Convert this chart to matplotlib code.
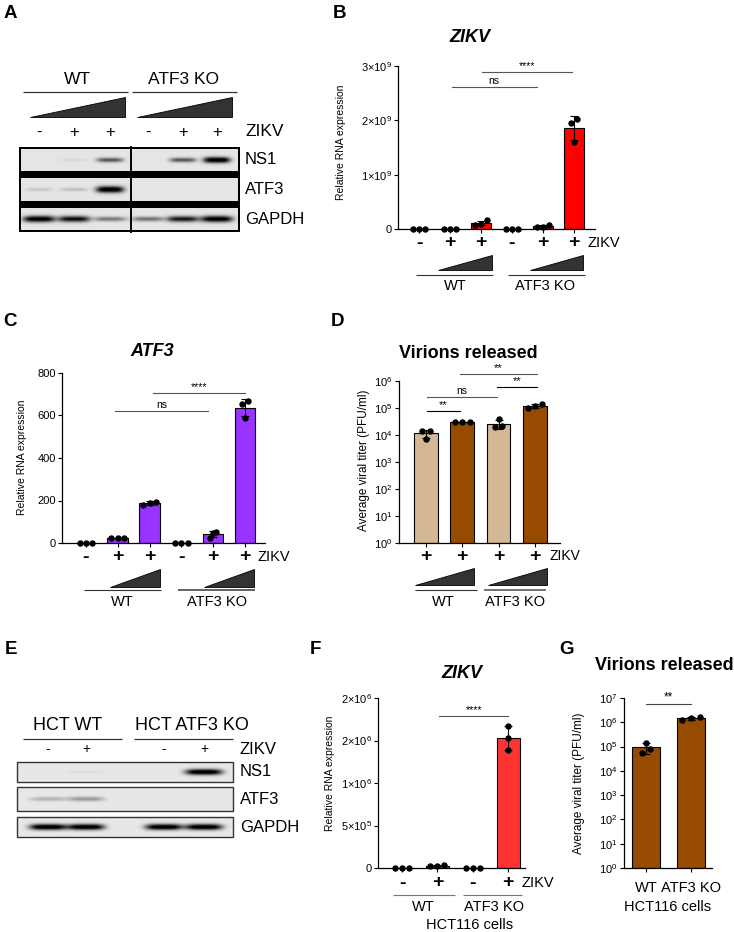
import numpy as np
import matplotlib
matplotlib.use('Agg')
import matplotlib.pyplot as plt
from matplotlib.patches import Polygon, Rectangle

plt.rcParams['font.family'] = ['Liberation Sans', 'DejaVu Sans']
plt.rcParams['mathtext.fontset'] = 'custom'
plt.rcParams['mathtext.rm'] = 'Liberation Sans'
plt.rcParams['mathtext.it'] = 'Liberation Sans:italic'
plt.rcParams['mathtext.bf'] = 'Liberation Sans:bold'

# ---------------- data ----------------
# Panel A western blot (band intensity 0..1), lanes: WT -,+,+ | ATF3 KO -,+,+
blotA_signs = ['-', '+', '+', '-', '+', '+']
blotA_NS1 = [0.0, 0.06, 0.55, 0.0, 0.55, 1.0]
blotA_ATF3 = [0.12, 0.15, 1.0, 0.0, 0.0, 0.0]
blotA_GAPDH = [0.95, 0.85, 0.42, 0.45, 0.8, 0.95]

# Panel B ZIKV RNA (3 replicates per condition)
B_signs = ['-', '+', '+', '-', '+', '+']
B_reps = [[0, 0, 0], [0, 0, 0], [0.16e9, 0.10e9, 0.08e9],
          [0, 0, 0], [0.03e9, 0.07e9, 0.04e9], [2.02e9, 1.95e9, 1.60e9]]

# Panel C ATF3 RNA
C_signs = ['-', '+', '+', '-', '+', '+']
C_reps = [[1, 1, 1], [22, 25, 22], [195, 190, 180],
          [1, 1, 1], [52, 48, 25], [666, 655, 590]]

# Panel D virions released (PFU/ml)
D_signs = ['+', '+', '+', '+']
D_reps = [[1.4e4, 1.4e4, 7.0e3], [3.0e4, 3.1e4, 3.0e4],
          [2.1e4, 2.0e4, 3.8e4], [1.0e5, 1.2e5, 1.45e5]]

# Panel E western blot (HCT116): WT -,+ | ATF3 KO -,+
blotE_signs = ['-', '+', '-', '+']
blotE_NS1 = [0.0, 0.05, 0.0, 1.0]
blotE_ATF3 = [0.2, 0.3, 0.0, 0.0]
blotE_GAPDH = [1.0, 1.0, 1.0, 1.0]

# Panel F ZIKV RNA HCT116
F_signs = ['-', '+', '-', '+']
F_reps = [[0, 0, 0], [2.5e4, 3.0e4, 2.8e4], [0, 0, 0], [1.67e6, 1.53e6, 1.39e6]]
F_yticks = [0, 5e5, 1e6, 1.5e6, 2e6]
F_yticklabels = ['0', r'$5{\times}10^{5}$', r'$1{\times}10^{6}$', r'$2{\times}10^{6}$', r'$2{\times}10^{6}$']

# Panel G virions HCT116
G_cats = ['WT', 'ATF3 KO']
G_reps = [[1.4e5, 8.0e4, 5.5e4], [1.7e6, 1.3e6, 1.5e6]]

# ---------------- figure ----------------
W, H = 734, 932
fig = plt.figure(figsize=(W / 100, H / 100), dpi=100)


def rect(x0, y0, x1, y1):
    return [x0 / W, 1 - y1 / H, (x1 - x0) / W, (y1 - y0) / H]


ov = fig.add_axes([0, 0, 1, 1], zorder=0)
ov.axis('off')


def T(x, y, s, fs, ha='center', va='center', **kw):
    ov.text(x, y, s, fontsize=fs, ha=ha, va=va, **kw)


def hline(x0, x1, y, color='#333333', lw=0.9):
    ov.plot([x0, x1], [y, y], color=color, lw=lw, solid_capstyle='butt')


def tri(x0, x1, ytop, ybot):
    ov.add_patch(Polygon([(x0, ybot), (x1, ybot), (x1, ytop)], closed=True,
                         fc='#333333', ec='black', lw=0.6))


def blot_row(lanes, intens, x0, x1, y0, y1, bw, bh, bg=0.9):
    xs = np.linspace(x0, x1, int((x1 - x0) * 3))
    ys = np.linspace(y0, y1, int((y1 - y0) * 3))
    X, Y = np.meshgrid(xs, ys)
    yc = (y0 + y1) / 2
    dark = np.zeros_like(X)
    for xc, I in zip(lanes, intens):
        if I <= 0:
            continue
        h = bh * (0.6 + 0.6 * I)
        dark += I * np.exp(-np.abs((X - xc) / (bw / 2)) ** 4) * np.exp(-((Y - yc) / (h / 2)) ** 2)
    img = bg * (1 - np.clip(dark * 1.15, 0, 1))
    ov.imshow(img, cmap='gray', vmin=0, vmax=1, extent=(x0, x1, y1, y0),
              aspect='auto', interpolation='bilinear', zorder=1)


# ---------- Panel A ----------
lanesA = [39, 74, 110, 148, 183, 217]
T(77, 79, 'WT', 12.5)
T(184, 79, 'ATF3 KO', 12.5)
hline(23, 128, 92)
hline(132, 237, 92)
tri(30, 125, 97, 117)
tri(137, 232, 97, 117)
for x, s in zip(lanesA, blotA_signs):
    T(x, 132, s, 12)
T(245, 132, 'ZIKV', 12.5, ha='left')
ov.add_patch(Rectangle((19, 147), 221, 85, fc='black', ec='none', zorder=0.5))
for (y0, y1), vals, bw, bh in [((149, 171), blotA_NS1, 27, 5),
                               ((178, 201), blotA_ATF3, 28, 5.5),
                               ((208, 230), blotA_GAPDH, 32, 5.5)]:
    blot_row(lanesA, vals, 21, 238, y0, y1, bw, bh)
ov.plot([130.5, 130.5], [147, 232], color='black', lw=1.4, zorder=2)
T(245, 160, 'NS1', 12, ha='left')
T(245, 190, 'ATF3', 12, ha='left')
T(245, 219, 'GAPDH', 12, ha='left')

# ---------- Panel E ----------
lanesE = [48, 86, 164, 204]
T(68, 726, 'HCT WT', 13)
T(192, 726, 'HCT ATF3 KO', 13)
hline(23, 122, 739)
hline(134, 233, 739)
for x, s in zip(lanesE, blotE_signs):
    T(x, 749, s, 10)
T(240, 749, 'ZIKV', 12, ha='left')
for (y0, y1), vals, bw, bh in [((762, 782), blotE_NS1, 37, 5),
                               ((787, 811), blotE_ATF3, 36, 6),
                               ((817, 837), blotE_GAPDH, 37, 5)]:
    blot_row(lanesE, vals, 17, 233, y0, y1, bw, bh, bg=0.91)
    ov.add_patch(Rectangle((17, y0), 216, y1 - y0, fc='none', ec='#333333', lw=1.0, zorder=2))
T(240, 772, 'NS1', 12, ha='left')
T(240, 800, 'ATF3', 12, ha='left')
T(240, 827, 'GAPDH', 12, ha='left')

ov.set_xlim(0, W)
ov.set_ylim(H, 0)


# ---------- bar panels ----------
def bar_panel(box, reps, colors, xlim, ylim, log=False, width=0.65):
    ax = fig.add_axes(rect(*box), zorder=2)
    ax.set_facecolor('none')
    n = len(reps)
    xs = np.arange(n)
    means = np.array([np.mean(r) for r in reps])
    sds = np.array([np.std(r, ddof=1) for r in reps])
    if log:
        ax.set_yscale('log')
    ax.set_xlim(*xlim)
    ax.set_ylim(*ylim)
    ax.bar(xs, means, width, bottom=(ylim[0] if log else 0), color=colors,
           edgecolor='black', linewidth=0.8, zorder=2)
    for i in range(n):
        if sds[i] > 0:
            ax.errorbar([xs[i]], [means[i]], yerr=[[sds[i]], [sds[i]]], fmt='none',
                        ecolor='black', elinewidth=0.8, capsize=3, capthick=0.8, zorder=3)
        vals = np.array(reps[i], dtype=float)
        pix = ax.transData.transform(np.column_stack([np.zeros(len(vals)), vals]))[:, 1]
        order = np.argsort(pix)
        off = np.zeros(len(vals))
        for a in range(len(order)):
            for b in range(a + 1, len(order)):
                if abs(pix[order[a]] - pix[order[b]]) < 5:
                    off[order[a]] -= 0.1
                    off[order[b]] += 0.1
        ax.plot(xs[i] + off, vals, 'o', ms=3.6, color='black', zorder=4, clip_on=False)
    for s in ['top', 'right']:
        ax.spines[s].set_visible(False)
    for s in ['left', 'bottom']:
        ax.spines[s].set_linewidth(0.9)
    ax.set_xticks(xs)
    ax.set_xticklabels([])
    ax.tick_params(direction='out', length=3, width=0.8, labelsize=8, pad=1.5)
    ax.minorticks_off()
    return ax


def ylab(ax, box, text, xpx, ypx, fs=7.5):
    ax.set_ylabel(text, fontsize=fs)
    ax.yaxis.set_label_coords((xpx - box[0]) / (box[2] - box[0]), (box[3] - ypx) / (box[3] - box[1]))


def sig(ax, x0, x1, y, text, color='#444444', fs=7.5, dy=0.5):
    ax.plot([x0, x1], [y, y], color=color, lw=0.8, clip_on=False, zorder=3)
    ax.annotate(text, ((x0 + x1) / 2, y), xytext=(0, dy), textcoords='offset points',
                ha='center', va='bottom', fontsize=fs, annotation_clip=False)


def cat_px(ax, i):
    return ax.transData.transform((i, 1))[0]


def log_labels(ax, top):
    ax.set_yticks([10.0 ** k for k in range(top + 1)])
    ax.set_yticklabels([r'$10^{%d}$' % k for k in range(top + 1)])


# ---------- Panel B ----------
boxB = (398, 66, 595, 229)
axB = bar_panel(boxB, B_reps, '#FF0000', (-0.68, 5.68), (0, 3e9))
axB.set_yticks([0, 1e9, 2e9, 3e9])
axB.set_yticklabels(['0', r'$1{\times}10^{9}$', r'$2{\times}10^{9}$', r'$3{\times}10^{9}$'])
ylab(axB, boxB, 'Relative RNA expression', 346, 142)
sig(axB, 1.05, 3.8, 2.62e9, 'ns', color='#555555')
sig(axB, 2.03, 4.94, 2.89e9, '****', color='#555555', fs=7.5)
for i, s in enumerate(B_signs):
    T(cat_px(axB, i), 243, s, 14, fontweight='bold')
T(587, 243, 'ZIKV', 10.5, ha='left')
tri(438, 492, 255, 270)
tri(530, 583, 255, 270)
hline(416, 493, 275, lw=0.8)
hline(508, 585, 275, lw=0.8)
T(455, 286, 'WT', 10.5)
T(545, 286, 'ATF3 KO', 10.5)

# ---------- Panel C ----------
boxC = (62, 373, 265, 543)
axC = bar_panel(boxC, C_reps, '#9933FF', (-0.75, 5.63), (0, 800))
axC.set_yticks([0, 200, 400, 600, 800])
ylab(axC, boxC, 'Relative RNA expression', 27, 457)
sig(axC, 0.9, 3.85, 621, 'ns', color='#555555')
sig(axC, 2.1, 5.0, 706, '****', color='#555555', fs=7.5)
for i, s in enumerate(C_signs):
    T(cat_px(axC, i), 557, s, 14, fontweight='bold')
T(258, 557, 'ZIKV', 10.5, ha='left')
tri(110, 160, 569, 587)
tri(204, 254, 569, 587)
hline(84, 161, 590, lw=0.8)
hline(178, 255, 590, lw=1.3, color='#555555')
T(122, 602, 'WT', 10.5)
T(217, 602, 'ATF3 KO', 10.5)

# ---------- Panel D ----------
boxD = (399, 381, 560, 543)
axD = bar_panel(boxD, D_reps, ['#D4B896', '#964B00', '#D4B896', '#964B00'],
                (-0.74, 3.69), (1, 1e6), log=True)
log_labels(axD, 6)
ylab(axD, boxD, 'Average viral titer (PFU/ml)', 370, 460, fs=8.5)
sig(axD, 0.03, 0.94, 10 ** 4.89, '**', color='black', fs=8)
sig(axD, 0.03, 1.96, 10 ** 5.41, 'ns', color='#555555')
sig(axD, 1.96, 3.06, 10 ** 5.78, '**', color='black', fs=8)
sig(axD, 0.94, 3.06, 10 ** 6.26, '**', color='#555555', fs=8)
for i, s in enumerate(D_signs):
    T(cat_px(axD, i), 556, s, 14, fontweight='bold')
T(549, 556, 'ZIKV', 10, ha='left')
tri(415, 474, 568, 585)
tri(488, 547, 568, 585)
hline(415, 477, 590, lw=0.8)
hline(484, 546, 590, lw=1.3, color='#666666')
T(443, 602, 'WT', 10.5)
T(515, 602, 'ATF3 KO', 10.5)

# ---------- Panel F ----------
boxF = (378, 698, 525, 868)
axF = bar_panel(boxF, F_reps, '#FF3333', (-0.68, 3.48), (0, 2e6))
axF.set_yticks(F_yticks)
axF.set_yticklabels(F_yticklabels)
ylab(axF, boxF, 'Relative RNA expression', 335, 773)
sig(axF, 1.05, 3.0, 1.79e6, '****', color='#555555', fs=7.5)
for i, s in enumerate(F_signs):
    T(cat_px(axF, i), 883, s, 14, fontweight='bold')
T(521, 883, 'ZIKV', 10.5, ha='left')
hline(393, 455, 895, lw=0.8, color='#777777')
hline(463, 522, 895, lw=0.8, color='#777777')
T(423, 907, 'WT', 10.5)
T(494, 907, 'ATF3 KO', 10.5)
T(470, 925, 'HCT116 cells', 10.5)

# ---------- Panel G ----------
boxG = (624, 698, 712, 868)
axG = bar_panel(boxG, G_reps, '#964B00', (-0.49, 1.47), (1, 1e7), log=True, width=0.64)
log_labels(axG, 7)
axG.set_xticklabels(G_cats, fontsize=10.5)
axG.tick_params(axis='x', pad=6)
axG.set_xlabel('HCT116 cells', fontsize=10.5, labelpad=4)
ylab(axG, boxG, 'Average viral titer (PFU/ml)', 585, 783, fs=8.5)
sig(axG, 0, 1, 10 ** 6.75, '**', color='#444444', fs=8.5)

# ---------- titles & panel letters ----------
T(470, 38, 'ZIKV', 13, fontweight='bold', fontstyle='italic')
T(152, 351, 'ATF3', 13, fontweight='bold', fontstyle='italic')
T(468, 353, 'Virions released', 13, fontweight='bold')
T(462, 674, 'ZIKV', 13, fontweight='bold', fontstyle='italic')
T(664, 665, 'Virions released', 13, fontweight='bold')
for x, y, s in [(10, 14, 'A'), (340, 14, 'B'), (10, 321, 'C'), (337, 321, 'D'),
                (11, 649, 'E'), (315, 649, 'F'), (567, 650, 'G')]:
    T(x, y, s, 13.5, fontweight='bold')

fig.savefig('out.png', dpi=100)
